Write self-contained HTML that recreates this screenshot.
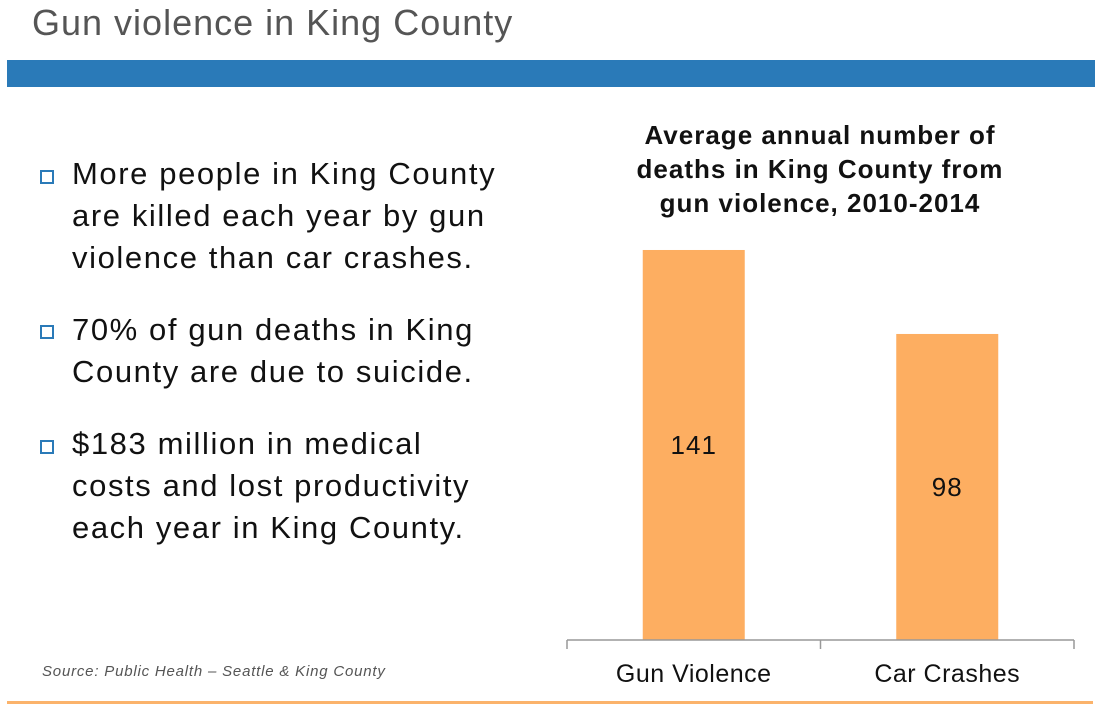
<!DOCTYPE html>
<html><head><meta charset="utf-8"><style>
body{margin:0;width:1098px;height:707px;background:#fff;position:relative;overflow:hidden;font-family:"Liberation Sans",sans-serif}
.abs{position:absolute}
.bul{position:absolute;left:72px;font-size:31px;line-height:42px;color:#111;letter-spacing:1.6px;white-space:nowrap}
.sq{position:absolute;left:40px;width:10px;height:10px;border:2px solid #2a7ab8}
</style></head><body>
<div class="abs" style="left:32px;top:2px;font-size:36px;color:#555;letter-spacing:1px">Gun violence in King County</div>
<div class="abs" style="left:7px;top:60px;width:1088px;height:27px;background:#2a7ab8"></div>
<div class="sq" style="top:170px"></div>
<div class="bul" style="top:153px">More people in King County<br>are killed each year by gun<br>violence than car crashes.</div>
<div class="sq" style="top:325px"></div>
<div class="bul" style="top:309px">70% of gun deaths in King<br>County are due to suicide.</div>
<div class="sq" style="top:440px"></div>
<div class="bul" style="top:423px">$183 million in medical<br>costs and lost productivity<br>each year in King County.</div>
<div class="abs" style="left:42px;top:663px;font-size:15px;font-style:italic;color:#555;letter-spacing:0.8px">Source: Public Health – Seattle &amp; King County</div>
<div class="abs" style="left:7px;top:701px;width:1086px;height:3px;background:#fbb36b"></div>
<div class="abs" style="left:570px;top:118px;width:500px;text-align:center;font-size:26px;font-weight:bold;line-height:34px;color:#111;letter-spacing:1px">Average annual number of<br>deaths in King County from<br>gun violence, 2010-2014</div>
<svg class="abs" style="left:0;top:0" width="1098" height="707" id="chart"></svg>
<script>
const categories=["Gun Violence","Car Crashes"];
const values=[141,98];
const ns="http://www.w3.org/2000/svg";
const svg=document.getElementById('chart');
const x0=567,x1=1074,base=640,yMin=-58.7,k=1.953;
const band=(x1-x0)/categories.length;
function y(v){return base-(v-yMin)*k;}
function mk(t,a){const e=document.createElementNS(ns,t);for(const q in a)e.setAttribute(q,a[q]);svg.appendChild(e);return e;}
categories.forEach((c,i)=>{
  const cx=x0+band*(i+0.5);
  const r=mk('rect',{x:cx-51,y:y(values[i]),width:102,height:base-y(values[i]),fill:'#fdae61'});
  
  
  const t=mk('text',{x:cx,y:(y(values[i])+base)/2+9,'text-anchor':'middle','font-size':26,'font-family':'Liberation Sans, sans-serif',fill:'#111','letter-spacing':1});
  t.textContent=values[i];
  
  
  const l=mk('text',{x:cx,y:682,'text-anchor':'middle','font-size':25,'font-family':'Liberation Sans, sans-serif',fill:'#111','letter-spacing':0.5});
  l.textContent=c;
  
  
});
const ax=mk('line',{x1:x0,x2:x1,y1:base,y2:base,stroke:'#999','stroke-width':1.5});


for(let i=0;i<=categories.length;i++){
  const tk=mk('line',{x1:x0+band*i,x2:x0+band*i,y1:base,y2:base+9,stroke:'#999','stroke-width':1.5});
  
  
}
</script>
</body></html>
